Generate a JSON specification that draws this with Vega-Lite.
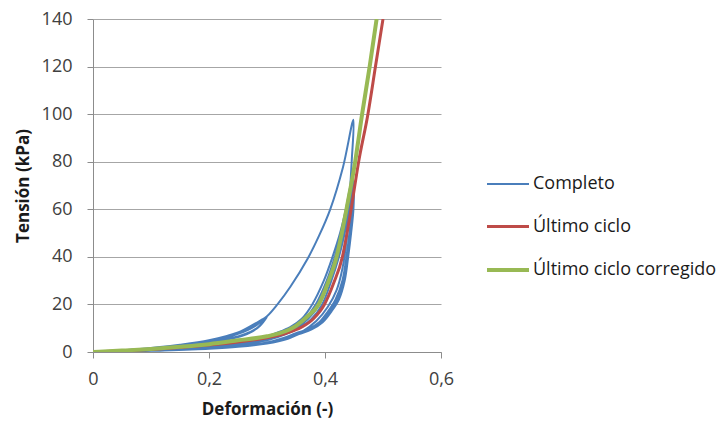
{
"$schema":"https://vega.github.io/schema/vega-lite/v6.json",
"width":348,"height":333,
"autosize":{"type":"none"},
"padding":{"left":93,"top":19,"right":280,"bottom":71},
"config":{"font":"Open Sans","view":{"stroke":null},
 "axis":{"domainColor":"#8C8C8C","tickColor":"#8C8C8C","gridColor":"#A6A6A6","labelColor":"#404040","labelFontSize":18,"titleFontSize":17,"titleFontWeight":"bold","titleColor":"#1a1a1a","tickSize":6,"labelFlush":false}},
"encoding":{
 "x":{"field":"x","type":"quantitative","scale":{"domain":[0,0.6],"nice":false},
  "axis":{"title":"Deformación (-)","values":[0,0.2,0.4,0.6],"grid":false,"labelPadding":12,"titlePadding":13,
   "labelExpr":"datum.value == 0 ? '0' : replace(format(datum.value, '.1f'), '.', ',')"}},
 "y":{"field":"y","type":"quantitative","scale":{"domain":[0,140],"nice":false},
  "axis":{"title":"Tensión (kPa)","values":[0,20,40,60,80,100,120,140],"grid":true,"labelPadding":15,"titlePadding":9}}
},
"layer":[
{"data":{"values":[
{"i":1,"x":0,"y":0},{"i":2,"x":0.05,"y":0.6},{"i":3,"x":0.1,"y":1.5},{"i":4,"x":0.15,"y":2.8},{"i":5,"x":0.2,"y":4.5},{"i":6,"x":0.25,"y":7.6},{"i":7,"x":0.28,"y":11},{"i":8,"x":0.3,"y":15},
{"i":9,"x":0.29,"y":11.5},{"i":10,"x":0.28,"y":9.5},{"i":11,"x":0.26,"y":7.2},{"i":12,"x":0.24,"y":5.8},{"i":13,"x":0.2,"y":3.8},{"i":14,"x":0.15,"y":2.4},{"i":15,"x":0.1,"y":1.3},{"i":16,"x":0.05,"y":0.5},{"i":17,"x":0.01,"y":0},
{"i":18,"x":0.05,"y":0.7},{"i":19,"x":0.1,"y":1.6},{"i":20,"x":0.15,"y":2.9},{"i":21,"x":0.2,"y":4.7},{"i":22,"x":0.25,"y":7.9},{"i":23,"x":0.28,"y":11.6},{"i":24,"x":0.298,"y":14.6},
{"i":25,"x":0.288,"y":11},{"i":26,"x":0.275,"y":8.7},{"i":27,"x":0.255,"y":6.6},{"i":28,"x":0.23,"y":5.2},{"i":29,"x":0.2,"y":3.9},{"i":30,"x":0.15,"y":2.5},{"i":31,"x":0.1,"y":1.3},{"i":32,"x":0.05,"y":0.5},{"i":33,"x":0.01,"y":0},
{"i":34,"x":0.05,"y":0.7},{"i":35,"x":0.1,"y":1.7},{"i":36,"x":0.15,"y":3.0},{"i":37,"x":0.2,"y":4.9},{"i":38,"x":0.25,"y":8.2},{"i":39,"x":0.28,"y":12},{"i":40,"x":0.295,"y":14},
{"i":41,"x":0.285,"y":10.5},{"i":42,"x":0.27,"y":8.3},{"i":43,"x":0.25,"y":6.5},{"i":44,"x":0.22,"y":5},{"i":45,"x":0.2,"y":4.1},{"i":46,"x":0.15,"y":2.6},{"i":47,"x":0.1,"y":1.4},{"i":48,"x":0.05,"y":0.5},{"i":49,"x":0.01,"y":0},
{"i":50,"x":0.05,"y":0.7},{"i":51,"x":0.1,"y":1.6},{"i":52,"x":0.15,"y":3},{"i":53,"x":0.2,"y":4.8},{"i":54,"x":0.25,"y":8},{"i":55,"x":0.28,"y":11.5},{"i":56,"x":0.3,"y":15},{"i":57,"x":0.318,"y":20},{"i":58,"x":0.34,"y":27.3},{"i":59,"x":0.37,"y":39.2},{"i":60,"x":0.39,"y":49},{"i":61,"x":0.409,"y":60},{"i":62,"x":0.431,"y":77.7},{"i":63,"x":0.449,"y":97.6},
{"i":64,"x":0.446,"y":80},{"i":65,"x":0.441,"y":60},{"i":66,"x":0.436,"y":45},{"i":67,"x":0.43,"y":35},{"i":68,"x":0.42,"y":26},{"i":69,"x":0.405,"y":19},{"i":70,"x":0.385,"y":13},{"i":71,"x":0.36,"y":8.5},{"i":72,"x":0.33,"y":5.5},{"i":73,"x":0.3,"y":3.8},{"i":74,"x":0.25,"y":2.5},{"i":75,"x":0.2,"y":1.7},{"i":76,"x":0.15,"y":1.1},{"i":77,"x":0.1,"y":0.6},{"i":78,"x":0.05,"y":0.2},{"i":79,"x":0.02,"y":0},
{"i":80,"x":0.1,"y":1.0},{"i":81,"x":0.2,"y":2.8},{"i":82,"x":0.25,"y":4.2},{"i":83,"x":0.3,"y":6.5},{"i":84,"x":0.315,"y":7.9},{"i":85,"x":0.34,"y":10.5},{"i":86,"x":0.36,"y":14},{"i":87,"x":0.378,"y":20},{"i":88,"x":0.398,"y":30},{"i":89,"x":0.413,"y":40},{"i":90,"x":0.426,"y":50},{"i":91,"x":0.436,"y":60},{"i":92,"x":0.446,"y":72},
{"i":93,"x":0.446,"y":60},{"i":94,"x":0.442,"y":50},{"i":95,"x":0.437,"y":40},{"i":96,"x":0.43,"y":30},{"i":97,"x":0.418,"y":22},{"i":98,"x":0.405,"y":17},{"i":99,"x":0.39,"y":12.5},{"i":100,"x":0.37,"y":9.5},{"i":101,"x":0.35,"y":7.9},{"i":102,"x":0.33,"y":6},{"i":103,"x":0.3,"y":4},{"i":104,"x":0.25,"y":2.4},{"i":105,"x":0.2,"y":1.6},{"i":106,"x":0.1,"y":0.6},{"i":107,"x":0.03,"y":0},
{"i":108,"x":0.1,"y":0.9},{"i":109,"x":0.2,"y":2.5},{"i":110,"x":0.25,"y":3.8},{"i":111,"x":0.3,"y":5.8},{"i":112,"x":0.322,"y":7.7},{"i":113,"x":0.345,"y":10.5},{"i":114,"x":0.365,"y":14},{"i":115,"x":0.384,"y":20},{"i":116,"x":0.403,"y":30},{"i":117,"x":0.417,"y":40},{"i":118,"x":0.429,"y":50},{"i":119,"x":0.438,"y":60},{"i":120,"x":0.447,"y":72},
{"i":121,"x":0.447,"y":60},{"i":122,"x":0.443,"y":50},{"i":123,"x":0.438,"y":40},{"i":124,"x":0.431,"y":30},{"i":125,"x":0.42,"y":22},{"i":126,"x":0.407,"y":17},{"i":127,"x":0.392,"y":12.5},{"i":128,"x":0.373,"y":9.5},{"i":129,"x":0.352,"y":7.6},{"i":130,"x":0.333,"y":5.8},{"i":131,"x":0.3,"y":3.8},{"i":132,"x":0.25,"y":2.3},{"i":133,"x":0.2,"y":1.5},{"i":134,"x":0.1,"y":0.5},{"i":135,"x":0.03,"y":0},
{"i":136,"x":0.1,"y":0.8},{"i":137,"x":0.2,"y":2.3},{"i":138,"x":0.25,"y":3.5},{"i":139,"x":0.3,"y":5.3},{"i":140,"x":0.33,"y":7.8},{"i":141,"x":0.352,"y":10.5},{"i":142,"x":0.371,"y":14},{"i":143,"x":0.39,"y":20},{"i":144,"x":0.407,"y":30},{"i":145,"x":0.421,"y":40},{"i":146,"x":0.432,"y":50},{"i":147,"x":0.44,"y":60},{"i":148,"x":0.448,"y":72},
{"i":149,"x":0.448,"y":60},{"i":150,"x":0.444,"y":50},{"i":151,"x":0.439,"y":40},{"i":152,"x":0.433,"y":30},{"i":153,"x":0.422,"y":22},{"i":154,"x":0.409,"y":17},{"i":155,"x":0.394,"y":12.5},{"i":156,"x":0.375,"y":9.5},{"i":157,"x":0.354,"y":7.5},{"i":158,"x":0.335,"y":5.7},{"i":159,"x":0.3,"y":3.7},{"i":160,"x":0.25,"y":2.2},{"i":161,"x":0.2,"y":1.4},{"i":162,"x":0.1,"y":0.5},{"i":163,"x":0.035,"y":0},
{"i":164,"x":0.1,"y":0.7},{"i":165,"x":0.2,"y":2.1},{"i":166,"x":0.25,"y":3.2},{"i":167,"x":0.3,"y":4.9},{"i":168,"x":0.336,"y":7.8},{"i":169,"x":0.358,"y":10.5},{"i":170,"x":0.377,"y":14},{"i":171,"x":0.395,"y":20},{"i":172,"x":0.411,"y":30},{"i":173,"x":0.424,"y":40},{"i":174,"x":0.434,"y":50},{"i":175,"x":0.442,"y":60},{"i":176,"x":0.449,"y":72},
{"i":177,"x":0.449,"y":60},{"i":178,"x":0.445,"y":50},{"i":179,"x":0.44,"y":40},{"i":180,"x":0.434,"y":30},{"i":181,"x":0.424,"y":22},{"i":182,"x":0.411,"y":17},{"i":183,"x":0.396,"y":12.5},{"i":184,"x":0.377,"y":9.5},{"i":185,"x":0.355,"y":7.5},{"i":186,"x":0.336,"y":5.6},{"i":187,"x":0.3,"y":3.6},{"i":188,"x":0.25,"y":2.2},{"i":189,"x":0.2,"y":1.4},{"i":190,"x":0.1,"y":0.5},{"i":191,"x":0,"y":0}
]},
"mark":{"type":"line","interpolate":"catmull-rom","clip":true},
"encoding":{"order":{"field":"i","type":"quantitative"},
 "color":{"datum":"Completo","type":"nominal","scale":{"domain":["Completo","Último ciclo","Último ciclo corregido"],"range":["#4A7EBB","#BE4B48","#98B954"]},
  "legend":{"title":null,"orient":"none","legendX":392,"legendY":143,"symbolType":"stroke","symbolSize":1764,"labelFontSize":18,"labelColor":"#1a1a1a","labelOffset":2,"rowPadding":11,"labelLimit":0}},
 "strokeWidth":{"datum":"Completo","type":"ordinal","scale":{"domain":["Completo","Último ciclo","Último ciclo corregido"],"range":[2,4,4]},
  "legend":{"title":null,"orient":"none","legendX":392,"legendY":143,"symbolType":"stroke","symbolSize":1764,"labelFontSize":18,"labelColor":"#1a1a1a","labelOffset":2,"rowPadding":11,"labelLimit":0}}}
},
{"data":{"values":[
{"i":1,"x":0,"y":0},{"i":2,"x":0.05,"y":0.5},{"i":3,"x":0.1,"y":1.1},{"i":4,"x":0.15,"y":1.9},{"i":5,"x":0.2,"y":2.9},{"i":6,"x":0.25,"y":4.2},{"i":7,"x":0.3,"y":6},{"i":8,"x":0.333,"y":7.9},{"i":9,"x":0.36,"y":10.5},{"i":10,"x":0.38,"y":14},{"i":11,"x":0.399,"y":20},{"i":12,"x":0.415,"y":29},{"i":13,"x":0.43,"y":40},{"i":14,"x":0.438,"y":50},{"i":15,"x":0.445,"y":60},{"i":16,"x":0.458,"y":80},{"i":17,"x":0.474,"y":100},{"i":18,"x":0.487,"y":120},{"i":19,"x":0.5,"y":140}
]},
"mark":{"type":"line","interpolate":"monotone","clip":true},
"encoding":{"order":{"field":"i","type":"quantitative"},"color":{"datum":"Último ciclo","type":"nominal"},"strokeWidth":{"datum":"Último ciclo","type":"ordinal"}}
},
{"data":{"values":[
{"i":1,"x":0,"y":0},{"i":2,"x":0.05,"y":0.6},{"i":3,"x":0.1,"y":1.3},{"i":4,"x":0.15,"y":2.2},{"i":5,"x":0.2,"y":3.3},{"i":6,"x":0.25,"y":4.9},{"i":7,"x":0.3,"y":6.6},{"i":8,"x":0.322,"y":7.9},{"i":9,"x":0.35,"y":11},{"i":10,"x":0.37,"y":15},{"i":11,"x":0.389,"y":20},{"i":12,"x":0.405,"y":29},{"i":13,"x":0.42,"y":40},{"i":14,"x":0.429,"y":50},{"i":15,"x":0.437,"y":60},{"i":16,"x":0.452,"y":80},{"i":17,"x":0.464,"y":100},{"i":18,"x":0.477,"y":120},{"i":19,"x":0.489,"y":140}
]},
"mark":{"type":"line","interpolate":"monotone","clip":true},
"encoding":{"order":{"field":"i","type":"quantitative"},"color":{"datum":"Último ciclo corregido","type":"nominal"},"strokeWidth":{"datum":"Último ciclo corregido","type":"ordinal"}}
}
]
}
